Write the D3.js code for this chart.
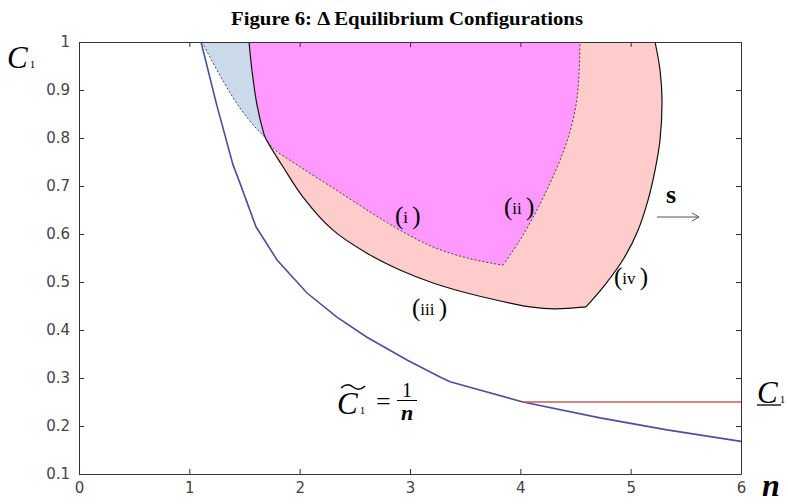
<!DOCTYPE html>
<html>
<head>
<meta charset="utf-8">
<script src="https://cdn.jsdelivr.net/npm/d3@7"></script>
<style>
  body { margin: 0; background: #fff; }
  .tick text { font-family: "DejaVu Sans", sans-serif; font-size: 15px; fill: #444; }
  .axis path, .axis line { stroke: #333; }
  .serif { font-family: "Liberation Serif", serif; }
</style>
</head>
<body>
<div id="graphic"></div>
<script>
(function() {

  var width = 788,
      height = 504

  // tick labels
  var xTicks = [0, 1, 2, 3, 4, 5, 6]
  var yTicks = [0.1, 0.2, 0.3, 0.4, 0.5, 0.6, 0.7, 0.8, 0.9, 1]

  // C~1 = 1/n curve
  var tildeN = [1.106, 1.248, 1.396, 1.459, 1.604, 1.795, 2.067, 2.338, 2.61, 2.973, 3.272, 3.363, 4.024, 4.722, 5.329, 6.0]
  var tildeV = [1.0, 0.869, 0.744, 0.706, 0.615, 0.546, 0.477, 0.427, 0.385, 0.3375, 0.302, 0.292, 0.25, 0.217, 0.192, 0.168]

  // lower bound C_1 line
  var floorN = [4.02, 6]
  var floorV = [0.25, 0.25]

  // solid boundary (iii) above and below where it crosses the dashed one, then (iv)
  var solidUpperN = [1.541, 1.568, 1.613, 1.668, 1.69]
  var solidUpperV = [1.0, 0.94, 0.869, 0.815, 0.80]
  var solidLowerN = [1.69, 1.849, 2.03, 2.302, 2.61, 2.909, 3.209, 3.517, 3.906, 4.088, 4.314, 4.595]
  var solidLowerV = [0.80, 0.74, 0.677, 0.608, 0.56, 0.525, 0.498, 0.477, 0.456, 0.448, 0.444, 0.448]
  var solidRightN = [4.595, 4.767, 4.94, 5.067, 5.158, 5.221, 5.266, 5.284, 5.266, 5.221]
  var solidRightV = [0.448, 0.494, 0.55, 0.608, 0.671, 0.733, 0.796, 0.879, 0.942, 1.0]

  // dashed boundary (i) then (ii)
  var dashLeftN = [1.115, 1.305, 1.459, 1.595, 1.69]
  var dashLeftV = [1.0, 0.919, 0.8625, 0.823, 0.80]
  var dashMidN = [1.69, 1.758, 2.003, 2.302, 2.61, 2.909, 3.209, 3.517, 3.843]
  var dashMidV = [0.80, 0.779, 0.74, 0.696, 0.65, 0.608, 0.573, 0.55, 0.535]
  var dashRightN = [3.843, 3.997, 4.151, 4.269, 4.36, 4.441, 4.505, 4.532, 4.541]
  var dashRightV = [0.535, 0.5875, 0.65, 0.706, 0.754, 0.806, 0.869, 0.931, 1.0]

  function pts(ns, vs) {
    return ns.map(function(n, i) { return [n, vs[i]] })
  }

  var svg = d3.select("#graphic")
    .append("svg")
    .attr("width", width)
    .attr("height", height)

  var x = d3.scaleLinear().domain([0, 6]).range([79, 741])
  var y = d3.scaleLinear().domain([0.1, 1]).range([474, 42])

  var smooth = d3.line()
    .x(function(d) { return x(d[0]) })
    .y(function(d) { return y(d[1]) })
    .curve(d3.curveCatmullRom.alpha(0.5))

  var straight = d3.line()
    .x(function(d) { return x(d[0]) })
    .y(function(d) { return y(d[1]) })

  // join pieces keeping sharp corners between them
  function joined(pieces) {
    return pieces.map(function(p, i) {
      var s = smooth(p)
      return i === 0 ? s : s.replace(/^M/, "L")
    }).join("") + "Z"
  }

  var solidUpper = pts(solidUpperN, solidUpperV),
      solidLower = pts(solidLowerN, solidLowerV),
      solidRight = pts(solidRightN, solidRightV),
      dashLeft = pts(dashLeftN, dashLeftV),
      dashMid = pts(dashMidN, dashMidV),
      dashRight = pts(dashRightN, dashRightV)

  // fills
  svg.append("path")
    .attr("d", joined([solidUpper.concat(solidLower.slice(1)), solidRight]))
    .attr("fill", "#ffcccc")

  svg.append("path")
    .attr("d", joined([solidUpper, dashMid, dashRight]))
    .attr("fill", "#ff99ff")

  svg.append("path")
    .attr("d", joined([dashLeft, solidUpper.slice().reverse()]))
    .attr("fill", "#cbdaea")

  // boundary strokes
  svg.append("path")
    .attr("d", smooth(solidUpper.concat(solidLower.slice(1))))
    .attr("fill", "none").attr("stroke", "#111").attr("stroke-width", 1.2)
  svg.append("path")
    .attr("d", smooth(solidRight))
    .attr("fill", "none").attr("stroke", "#111").attr("stroke-width", 1.2)

  svg.append("path")
    .attr("d", smooth(dashLeft.concat(dashMid.slice(1))))
    .attr("fill", "none").attr("stroke", "#444").attr("stroke-width", 1)
    .attr("stroke-dasharray", "2,2")
  svg.append("path")
    .attr("d", smooth(dashRight))
    .attr("fill", "none").attr("stroke", "#444").attr("stroke-width", 1)
    .attr("stroke-dasharray", "2,2")

  // 1/n and floor
  svg.append("path")
    .attr("d", straight(pts(tildeN, tildeV)))
    .attr("fill", "none").attr("stroke", "#4e4e9c").attr("stroke-width", 1.6)

  svg.append("path")
    .attr("d", straight(pts(floorN, floorV)))
    .attr("fill", "none").attr("stroke", "#c85a5a").attr("stroke-width", 1.3)

  // axes (box with inward ticks)
  svg.append("g").attr("class", "axis")
    .attr("transform", "translate(0,474)")
    .call(d3.axisBottom(x).tickValues(xTicks).tickSizeInner(-5).tickSizeOuter(0).tickPadding(8).tickFormat(d3.format("d")))

  svg.append("g").attr("class", "axis")
    .attr("transform", "translate(79,0)")
    .call(d3.axisLeft(y).tickValues(yTicks).tickSizeInner(-5).tickSizeOuter(0).tickPadding(9)
      .tickFormat(function(d) { return d === 1 ? "1" : d.toFixed(1) }))

  svg.append("g").attr("class", "axis")
    .attr("transform", "translate(0,42)")
    .call(d3.axisTop(x).tickValues(xTicks).tickSizeInner(-5).tickSizeOuter(0).tickFormat(""))

  svg.append("g").attr("class", "axis")
    .attr("transform", "translate(741,0)")
    .call(d3.axisRight(y).tickValues(yTicks).tickSizeInner(-5).tickSizeOuter(0).tickFormat(""))

  // title
  svg.append("text").attr("class", "serif")
    .attr("x", 407).attr("y", 25)
    .attr("text-anchor", "middle")
    .attr("font-size", 19).attr("font-weight", "bold")
    .attr("textLength", 352).attr("lengthAdjust", "spacingAndGlyphs")
    .text("Figure 6: \u0394 Equilibrium Configurations")

  // axis names
  var c1 = svg.append("text").attr("class", "serif").attr("x", 7).attr("y", 68)
  c1.append("tspan").attr("font-size", 31).attr("font-style", "italic").text("C")
  c1.append("tspan").attr("font-size", 11).attr("dx", 2).text("1")

  svg.append("text").attr("class", "serif")
    .attr("x", 762).attr("y", 496)
    .attr("font-size", 32).attr("font-style", "italic").attr("font-weight", "bold")
    .text("n")

  // region labels
  var regions = [
    { t: "i", x: 395, y: 224 },
    { t: "ii", x: 504, y: 215 },
    { t: "iii", x: 412, y: 316 },
    { t: "iv", x: 614, y: 285 }
  ]
  regions.forEach(function(r) {
    var t = svg.append("text").attr("class", "serif").attr("x", r.x).attr("y", r.y)
    t.append("tspan").attr("font-size", 25).text("(")
    t.append("tspan").attr("font-size", 17).attr("dy", -1).text(r.t + " ")
    t.append("tspan").attr("font-size", 25).attr("dy", 1).text(")")
  })

  // s arrow
  svg.append("text").attr("class", "serif")
    .attr("x", 666).attr("y", 203)
    .attr("font-size", 26).attr("font-weight", "bold")
    .text("s")
  svg.append("line")
    .attr("x1", 657).attr("x2", 699).attr("y1", 217).attr("y2", 217)
    .attr("stroke", "#555").attr("stroke-width", 1)
  svg.append("path")
    .attr("d", "M692,213 L699,217 L692,221")
    .attr("fill", "none").attr("stroke", "#555").attr("stroke-width", 1)

  // C~1 = 1/n label
  var ct = svg.append("text").attr("class", "serif").attr("x", 337).attr("y", 414)
  ct.append("tspan").attr("font-size", 31).attr("font-style", "italic").text("C")
  ct.append("tspan").attr("font-size", 11).attr("dx", 2).text("1")
  svg.append("path")
    .attr("d", "M341,388 q6,-6 12,-1 t12,-1")
    .attr("fill", "none").attr("stroke", "#000").attr("stroke-width", 1.5)
  svg.append("text").attr("class", "serif")
    .attr("x", 376).attr("y", 410)
    .attr("font-size", 26)
    .text("=")
  svg.append("text").attr("class", "serif")
    .attr("x", 407).attr("y", 397)
    .attr("text-anchor", "middle")
    .attr("font-size", 20)
    .text("1")
  svg.append("line")
    .attr("x1", 397).attr("x2", 417).attr("y1", 400.5).attr("y2", 400.5)
    .attr("stroke", "#000").attr("stroke-width", 1)
  svg.append("text").attr("class", "serif")
    .attr("x", 407).attr("y", 420)
    .attr("text-anchor", "middle")
    .attr("font-size", 22).attr("font-style", "italic").attr("font-weight", "bold")
    .text("n")

  // C_1 underlined at right
  var cu = svg.append("text").attr("class", "serif").attr("x", 757).attr("y", 403)
  cu.append("tspan").attr("font-size", 31).attr("font-style", "italic").text("C")
  cu.append("tspan").attr("font-size", 11).attr("dx", 2).text("1")
  svg.append("line")
    .attr("x1", 757).attr("x2", 781).attr("y1", 405).attr("y2", 405)
    .attr("stroke", "#000").attr("stroke-width", 1.3)

})()
</script>
</body>
</html>
